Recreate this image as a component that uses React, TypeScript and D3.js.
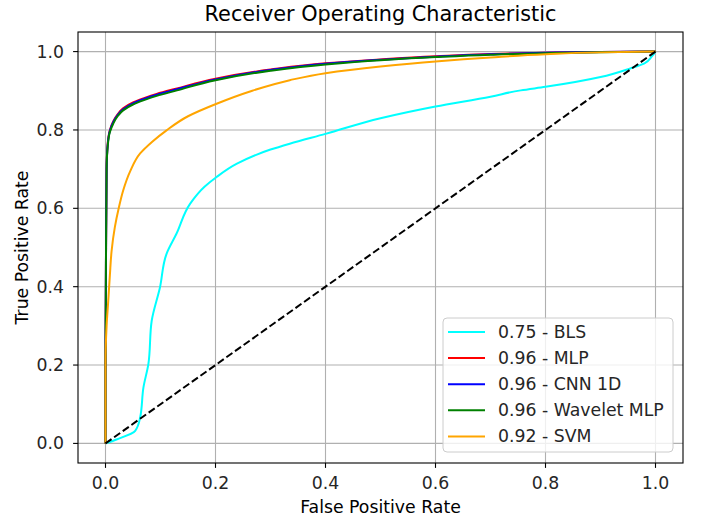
import { FC } from 'react'
import * as d3 from 'd3'

const blsFpr = [0, 0.02, 0.054, 0.063, 0.069, 0.078, 0.084, 0.099, 0.111, 0.129, 0.154, 0.18, 0.202, 0.239, 0.3, 0.335, 0.4, 0.5, 0.6, 0.7, 0.755, 0.8, 0.9, 0.954, 0.98, 0.993, 1.0]
const blsTpr = [0, 0.01, 0.032, 0.066, 0.143, 0.203, 0.313, 0.398, 0.484, 0.535, 0.612, 0.655, 0.68, 0.714, 0.75, 0.765, 0.79, 0.83, 0.86, 0.885, 0.901, 0.91, 0.935, 0.957, 0.97, 0.987, 1.0]

const mlpFpr = [0, 0, 0.001, 0.002, 0.004, 0.008, 0.014, 0.022, 0.032, 0.05, 0.07, 0.093, 0.13, 0.2, 0.3, 0.4, 0.5, 0.6, 0.7, 0.8, 0.9, 1.0]
const mlpTpr = [0, 0.2, 0.5, 0.7, 0.765, 0.8, 0.822, 0.84, 0.855, 0.87, 0.881, 0.892, 0.906, 0.931, 0.954, 0.97, 0.98, 0.988, 0.994, 0.997, 0.999, 1.0]

const cnnFpr = [0, 0, 0.001, 0.002, 0.004, 0.008, 0.014, 0.022, 0.032, 0.05, 0.07, 0.093, 0.13, 0.2, 0.3, 0.4, 0.5, 0.6, 0.7, 0.8, 0.9, 1.0]
const cnnTpr = [0, 0.2, 0.5, 0.7, 0.762, 0.798, 0.82, 0.838, 0.853, 0.868, 0.879, 0.89, 0.904, 0.929, 0.953, 0.969, 0.979, 0.987, 0.993, 0.997, 0.999, 1.0]

const wavFpr = [0, 0, 0.001, 0.002, 0.004, 0.008, 0.014, 0.022, 0.032, 0.05, 0.07, 0.093, 0.13, 0.2, 0.3, 0.4, 0.5, 0.6, 0.7, 0.8, 0.9, 1.0]
const wavTpr = [0, 0.2, 0.5, 0.7, 0.758, 0.795, 0.816, 0.835, 0.85, 0.865, 0.876, 0.887, 0.901, 0.927, 0.951, 0.967, 0.978, 0.986, 0.992, 0.996, 0.9985, 1.0]

const svmFpr = [0, 0, 0.002, 0.005, 0.008, 0.011, 0.017, 0.024, 0.032, 0.045, 0.063, 0.085, 0.111, 0.15, 0.202, 0.26, 0.335, 0.4, 0.5, 0.6, 0.7, 0.8, 0.9, 1.0]
const svmTpr = [0, 0.2, 0.3, 0.364, 0.43, 0.49, 0.552, 0.6, 0.645, 0.695, 0.74, 0.77, 0.799, 0.835, 0.867, 0.897, 0.927, 0.945, 0.962, 0.975, 0.985, 0.993, 0.998, 1.0]

const seriesNames = ['0.75 - BLS', '0.96 - MLP', '0.96 - CNN 1D', '0.96 - Wavelet MLP', '0.92 - SVM']
const seriesColors = ['cyan', 'red', 'blue', 'green', 'orange']
const seriesFpr = [blsFpr, mlpFpr, cnnFpr, wavFpr, svmFpr]
const seriesTpr = [blsTpr, mlpTpr, cnnTpr, wavTpr, svmTpr]

const tickValues = [0, 0.2, 0.4, 0.6, 0.8, 1.0]

const W = 702
const H = 520
const left = 78
const right = 683
const top = 32
const bottom = 463
const font = 'DejaVu Sans, sans-serif'
const fs = 17.3

const App: FC = () => {
  const x = d3.scaleLinear().domain([-0.05, 1.05]).range([left, right])
  const y = d3.scaleLinear().domain([-0.05, 1.05]).range([bottom, top])

  // roc curves are monotone in tpr, so interpolate fpr as a function of tpr
  const line = d3.line<[number, number]>()
    .x(d => x(d[0]))
    .y(d => y(d[1]))
    .curve(d3.curveMonotoneY)

  const legendX = 443
  const legendY = 318
  const rowH = 26.1

  return (
    <svg width={W} height={H} style={{ position: 'absolute', left: 0, top: 0, background: '#fff' }} fontFamily={font}>
      <rect x={0} y={0} width={W} height={H} fill="#fff" />
      {/* grid */}
      {tickValues.map(t => (
        <g key={'g' + t}>
          <line x1={x(t)} x2={x(t)} y1={top} y2={bottom} stroke="#b0b0b0" strokeWidth={1.1} />
          <line x1={left} x2={right} y1={y(t)} y2={y(t)} stroke="#b0b0b0" strokeWidth={1.1} />
        </g>
      ))}
      {/* curves */}
      {seriesFpr.map((fpr, i) => (
        <path
          key={seriesNames[i]}
          d={line(fpr.map((f, j) => [f, seriesTpr[i][j]] as [number, number])) || ''}
          fill="none"
          stroke={seriesColors[i]}
          strokeWidth={2}
          strokeLinejoin="round"
        />
      ))}
      <line x1={x(0)} y1={y(0)} x2={x(1)} y2={y(1)} stroke="#000" strokeWidth={2} strokeDasharray="7.4,3.2" />
      {/* frame */}
      <rect x={left} y={top} width={right - left} height={bottom - top} fill="none" stroke="#000" strokeWidth={1.1} />
      {/* ticks */}
      {tickValues.map(t => (
        <g key={'t' + t}>
          <line x1={x(t)} x2={x(t)} y1={bottom} y2={bottom + 4.9} stroke="#000" strokeWidth={1.1} />
          <text x={x(t)} y={bottom + 26} textAnchor="middle" fontSize={fs} fill="#262626">{t.toFixed(1)}</text>
          <line x1={left - 4.9} x2={left} y1={y(t)} y2={y(t)} stroke="#000" strokeWidth={1.1} />
          <text x={64} y={y(t)} dy="0.35em" textAnchor="end" fontSize={fs} fill="#262626">{t.toFixed(1)}</text>
        </g>
      ))}
      <text x={(left + right) / 2} y={21} textAnchor="middle" fontSize={20.8} fill="#000">Receiver Operating Characteristic</text>
      <text x={(left + right) / 2} y={513} textAnchor="middle" fontSize={fs} fill="#000">False Positive Rate</text>
      <text transform={`translate(28, ${(top + bottom) / 2}) rotate(-90)`} textAnchor="middle" fontSize={fs} fill="#000">True Positive Rate</text>
      {/* legend */}
      <rect x={legendX} y={legendY} width={230} height={134} rx={4} fill="#fff" fillOpacity={0.8} stroke="#cccccc" strokeWidth={1} />
      {seriesNames.map((name, i) => (
        <g key={'l' + name}>
          <line x1={legendX + 5} x2={legendX + 42} y1={legendY + 14 + i * rowH} y2={legendY + 14 + i * rowH} stroke={seriesColors[i]} strokeWidth={2} />
          <text x={legendX + 55} y={legendY + 14 + i * rowH} dy="0.35em" fontSize={fs} fill="#262626">{name}</text>
        </g>
      ))}
    </svg>
  )
}

export default App
